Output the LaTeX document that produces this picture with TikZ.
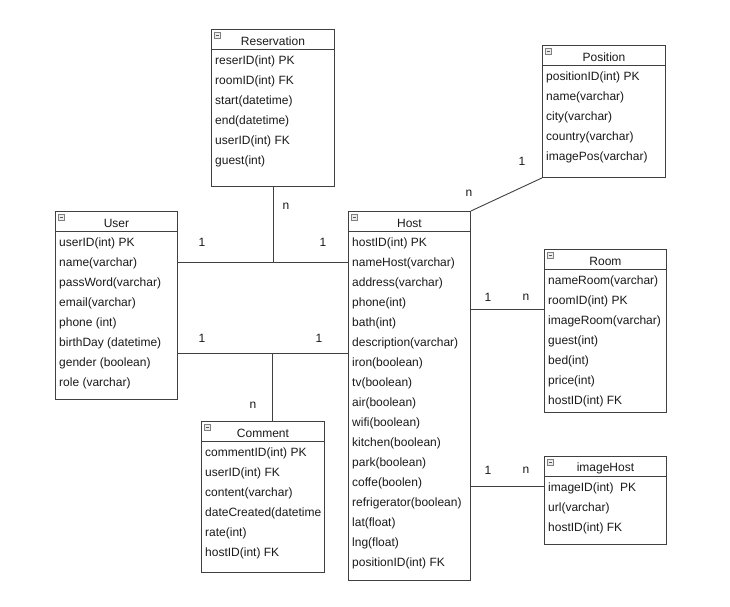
\documentclass[tikz,border=0pt]{standalone}
\usepackage{fontspec}
\setmainfont{Liberation Sans}
\definecolor{lineC}{HTML}{404040}
\definecolor{txtC}{HTML}{1A1A1A}
\tikzset{
  ent/.style={draw=lineC, line width=0.9pt, fill=white, inner sep=0pt, anchor=north west},
  rowtxt/.style={font=\fontsize{12}{14}\selectfont, text=txtC, inner sep=0pt, anchor=west},
  ttl/.style={font=\fontsize{12}{14}\selectfont, text=txtC, inner sep=0pt},
  lbl/.style={font=\fontsize{12}{14}\selectfont, text=txtC, inner sep=0pt},
  conn/.style={draw=lineC, line width=0.9pt},
  iconbox/.style={draw=gray, fill=gray!15, line width=0.5pt, minimum size=6pt, inner sep=0pt, anchor=north west}
}
% #1 name, #2 x, #3 y, #4 width, #5 height, #6 title, #7 rows
\newcommand\entity[7]{%
  \node[ent, minimum width=#4, minimum height=#5] (#1) at (#2,#3) {};
  \draw[conn] ([yshift=-20.5pt]#1.north west) -- ([yshift=-20.5pt]#1.north east);
  \node[iconbox] (#1-ic) at ([xshift=3pt,yshift=-3pt]#1.north west) {};
  \draw[gray!70!black, line width=0.8pt] ([xshift=1.5pt]#1-ic.west) -- ([xshift=-1.5pt]#1-ic.east);
  \node[ttl] (#1-t) at ([yshift=-12.5pt]#1.north) {#6};
  \begin{scope}
    \clip ([xshift=0.5pt]#1.north west) rectangle ([xshift=-0.5pt]#1.south east);
    \foreach \t [count=\i] in {#7}
      \node[rowtxt] (#1-\i) at ([xshift=4pt,yshift=-32.5pt-20pt*(\i-1)]#1.north west) {\t};
  \end{scope}
}
\begin{document}
\begin{tikzpicture}[x=1pt,y=-1pt]
\useasboundingbox[fill=white] (0,0) rectangle (730,606);

\entity{res}{211}{29}{123}{157}{Reservation}{reserID(int) PK,roomID(int) FK,start(datetime),end(datetime),userID(int) FK,guest(int)}
\entity{user}{55}{211}{122}{188}{User}{userID(int) PK,name(varchar),passWord(varchar),email(varchar),phone (int),birthDay (datetime),gender (boolean),role (varchar)}
\entity{host}{348}{211}{122}{369}{Host}{hostID(int) PK,nameHost(varchar),address(varchar),phone(int),bath(int),description(varchar),iron(boolean),tv(boolean),air(boolean),wifi(boolean),kitchen(boolean),park(boolean),coffe(boolen),refrigerator(boolean),lat(float),lng(float),positionID(int) FK}
\entity{pos}{542}{45}{123}{132}{Position}{positionID(int) PK,name(varchar),city(varchar),country(varchar),imagePos(varchar)}
\entity{room}{544}{249}{122}{163}{Room}{nameRoom(varchar),roomID(int) PK,imageRoom(varchar),guest(int),bed(int),price(int),hostID(int) FK}
\entity{com}{201}{421}{123}{151}{Comment}{commentID(int) PK,userID(int) FK,content(varchar),dateCreated(datetime,rate(int),hostID(int) FK}
\entity{img}{544}{456}{122}{88}{imageHost}{imageID(int)~~PK,url(varchar),hostID(int) FK}

% junction coordinates
\coordinate (j1) at (273,262);
\coordinate (j2) at (272,353);
\coordinate (yroom) at (0,309);
\coordinate (yimg) at (0,486);

% User - Host (with Reservation)
\draw[conn] (user.east |- j1) -- (host.west |- j1);
\draw[conn] (res.south -| j1) -- (j1);
% User - Host (with Comment)
\draw[conn] (user.east |- j2) -- (host.west |- j2);
\draw[conn] (j2) -- (com.north -| j2);
% Host - Position
\draw[conn] (host.north east) -- (pos.south west);
% Host - Room
\draw[conn] (host.east |- yroom) -- (room.west |- yroom);
% Host - imageHost
\draw[conn] (host.east |- yimg) -- (img.west |- yimg);

% labels
\node[lbl] (l1) at (286,206) {n};
\node[lbl] (l2) at (202,242) {1};
\node[lbl] (l3) at (323,242) {1};
\node[lbl] (l4) at (202,338) {1};
\node[lbl] (l5) at (319,338) {1};
\node[lbl] (l6) at (253,405) {n};
\node[lbl] (l7) at (469,193) {n};
\node[lbl] (l8) at (522,161) {1};
\node[lbl] (l9) at (488,297) {1};
\node[lbl] (l10) at (526,297) {n};
\node[lbl] (l11) at (488,470) {1};
\node[lbl] (l12) at (526,470) {n};
\end{tikzpicture}
\end{document}
